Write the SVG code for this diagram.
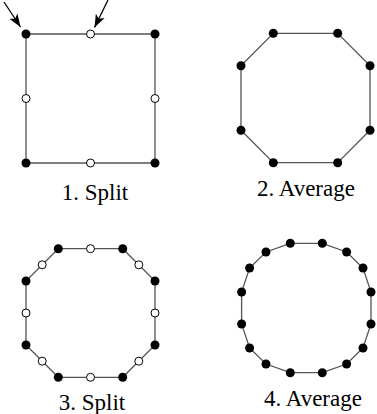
<svg xmlns="http://www.w3.org/2000/svg" width="377" height="414" viewBox="0 0 377 414">
<defs>
<style>
.edge{fill:none;stroke:#555;stroke-width:1.3}
.f{fill:#000}
.h{fill:#fff;stroke:#000;stroke-width:1}
.lbl{font-family:"Liberation Serif","Times New Roman",serif;font-size:23px;fill:#000;text-anchor:middle}
.arr{stroke:#000;stroke-width:1.3;fill:none}
</style>
<marker id="ah2" viewBox="0 0 12 10" refX="12" refY="5" markerWidth="13" markerHeight="11" markerUnits="userSpaceOnUse" orient="auto">
<path d="M0,0.5 L12,5 L0,9.5 L3,5 Z" fill="#000"/>
</marker>
</defs>
<g id="connectors">
<polygon class="edge" points="26,34 155,34 155,163 26,163"/>
<polygon class="edge" points="273.3,33.3 337.7,33.3 370,65.8 370,130.2 337.7,162.7 273.3,162.7 241,130.2 241,65.8"/>
<polygon class="edge" points="58.3,248.7 122.7,248.7 155,281 155,345 122.7,377.3 58.3,377.3 26,345 26,281"/>
<polygon class="edge" points="290.3,243.3 322.3,243.3 346.6,252 363,268 371,292 371,324 363,348 346.6,364 322.3,372.7 290.3,372.7 266,364 249.6,348 241.6,324 241.6,292 249.6,268 266,252"/>
<line class="arr" x1="4" y1="2" x2="20.5" y2="27" marker-end="url(#ah2)"/>
<line class="arr" x1="108" y1="0" x2="94.5" y2="27.5" marker-end="url(#ah2)"/>
</g>
<g id="panel1">
<circle class="f" cx="26" cy="34" r="4.5"/>
<circle class="f" cx="155" cy="34" r="4.5"/>
<circle class="f" cx="155" cy="163" r="4.5"/>
<circle class="f" cx="26" cy="163" r="4.5"/>
<circle class="h" cx="90.5" cy="34" r="4"/>
<circle class="h" cx="155" cy="98.5" r="4"/>
<circle class="h" cx="90.5" cy="163" r="4"/>
<circle class="h" cx="26" cy="98.5" r="4"/>
<text class="lbl" x="95" y="200">1. Split</text>
</g>
<g id="panel2">
<circle class="f" cx="273.3" cy="33.3" r="4.5"/>
<circle class="f" cx="337.7" cy="33.3" r="4.5"/>
<circle class="f" cx="370" cy="65.8" r="4.5"/>
<circle class="f" cx="370" cy="130.2" r="4.5"/>
<circle class="f" cx="337.7" cy="162.7" r="4.5"/>
<circle class="f" cx="273.3" cy="162.7" r="4.5"/>
<circle class="f" cx="241" cy="130.2" r="4.5"/>
<circle class="f" cx="241" cy="65.8" r="4.5"/>
<text class="lbl" x="306" y="196">2. Average</text>
</g>
<g id="panel3">
<circle class="f" cx="58.3" cy="248.7" r="4.5"/>
<circle class="f" cx="122.7" cy="248.7" r="4.5"/>
<circle class="f" cx="155" cy="281" r="4.5"/>
<circle class="f" cx="155" cy="345" r="4.5"/>
<circle class="f" cx="122.7" cy="377.3" r="4.5"/>
<circle class="f" cx="58.3" cy="377.3" r="4.5"/>
<circle class="f" cx="26" cy="345" r="4.5"/>
<circle class="f" cx="26" cy="281" r="4.5"/>
<circle class="h" cx="90.5" cy="248.7" r="4"/>
<circle class="h" cx="138.8" cy="264.8" r="4"/>
<circle class="h" cx="155" cy="313" r="4"/>
<circle class="h" cx="138.8" cy="361.2" r="4"/>
<circle class="h" cx="90.5" cy="377.3" r="4"/>
<circle class="h" cx="42.2" cy="361.2" r="4"/>
<circle class="h" cx="26" cy="313" r="4"/>
<circle class="h" cx="42.2" cy="264.8" r="4"/>
<text class="lbl" x="92" y="410">3. Split</text>
</g>
<g id="panel4">
<circle class="f" cx="290.3" cy="243.3" r="4.5"/>
<circle class="f" cx="322.3" cy="243.3" r="4.5"/>
<circle class="f" cx="346.6" cy="252" r="4.5"/>
<circle class="f" cx="363" cy="268" r="4.5"/>
<circle class="f" cx="371" cy="292" r="4.5"/>
<circle class="f" cx="371" cy="324" r="4.5"/>
<circle class="f" cx="363" cy="348" r="4.5"/>
<circle class="f" cx="346.6" cy="364" r="4.5"/>
<circle class="f" cx="322.3" cy="372.7" r="4.5"/>
<circle class="f" cx="290.3" cy="372.7" r="4.5"/>
<circle class="f" cx="266" cy="364" r="4.5"/>
<circle class="f" cx="249.6" cy="348" r="4.5"/>
<circle class="f" cx="241.6" cy="324" r="4.5"/>
<circle class="f" cx="241.6" cy="292" r="4.5"/>
<circle class="f" cx="249.6" cy="268" r="4.5"/>
<circle class="f" cx="266" cy="252" r="4.5"/>
<text class="lbl" x="313" y="406">4. Average</text>
</g>
</svg>
